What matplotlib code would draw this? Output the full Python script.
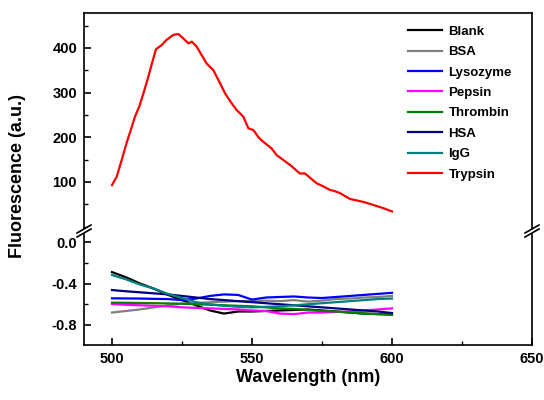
import matplotlib
matplotlib.use("Agg")
import matplotlib.pyplot as plt
from matplotlib.lines import Line2D
from matplotlib.patches import Polygon
from matplotlib.ticker import MultipleLocator

plt.rcParams["font.family"] = ["Liberation Sans", "DejaVu Sans"]
plt.rcParams["font.weight"] = "bold"

# Trypsin spectrum (upper panel)
trypsin_x = [500, 501.7, 503.5, 505.2, 506.8, 508.2, 509.8, 511.2, 512.5, 513.6, 514.7, 515.7,
             517.7, 519.5, 521.9, 523.7, 525.5, 527.3, 528.5, 530.2, 532.0, 533.8, 536.2, 538.5,
             540.4, 542.5, 544.5, 546.9, 548.7, 550.5, 552.3, 554.0, 557.0, 558.8, 561.0, 563.6,
             567.1, 568.9, 571.0, 573.1, 575.5, 577.9, 579.3, 581.4, 585.0, 586.4, 590.0, 593.6,
             597.1, 600.0]
trypsin_y = [93, 112, 150, 187, 218, 246, 270, 298, 325, 350, 375, 397,
             406, 418, 429, 431, 421, 410, 414, 403, 384, 365, 350, 322,
             298, 278, 261, 246, 220, 216, 200, 190, 175, 160, 150, 138,
             119, 119, 108, 97, 90, 82, 80, 75, 62, 60, 55, 48,
             41, 34]

# Control proteins (lower panel)
wl = [500, 505, 510, 515, 520, 525, 530, 535, 540, 545, 550, 555, 560, 565, 570, 575, 580, 585, 590, 595, 600]
blank = [-0.29, -0.34, -0.40, -0.45, -0.51, -0.56, -0.61, -0.66, -0.69, -0.67, -0.67, -0.665, -0.66,
         -0.655, -0.65, -0.66, -0.67, -0.68, -0.69, -0.695, -0.70]
bsa = [-0.68, -0.665, -0.65, -0.63, -0.61, -0.595, -0.59, -0.58, -0.575, -0.57, -0.57, -0.565, -0.57,
       -0.56, -0.575, -0.565, -0.55, -0.545, -0.535, -0.53, -0.52]
lysozyme = [-0.543, -0.544, -0.545, -0.548, -0.55, -0.56, -0.545, -0.52, -0.505, -0.51, -0.555, -0.535,
            -0.53, -0.525, -0.535, -0.54, -0.53, -0.52, -0.51, -0.50, -0.49]
pepsin = [-0.598, -0.605, -0.61, -0.615, -0.62, -0.63, -0.635, -0.64, -0.645, -0.65, -0.66, -0.665,
          -0.69, -0.695, -0.68, -0.68, -0.675, -0.67, -0.66, -0.65, -0.64]
thrombin = [-0.585, -0.586, -0.588, -0.59, -0.592, -0.595, -0.60, -0.605, -0.61, -0.615, -0.62, -0.63,
            -0.64, -0.645, -0.655, -0.665, -0.67, -0.68, -0.69, -0.695, -0.70]
hsa = [-0.463, -0.475, -0.485, -0.495, -0.505, -0.52, -0.535, -0.55, -0.56, -0.57, -0.58, -0.59,
       -0.60, -0.61, -0.62, -0.63, -0.64, -0.65, -0.66, -0.67, -0.685]
igg = [-0.318, -0.36, -0.41, -0.45, -0.50, -0.54, -0.58, -0.60, -0.615, -0.625, -0.63, -0.625,
       -0.62, -0.61, -0.60, -0.59, -0.58, -0.57, -0.56, -0.55, -0.545]

series = [
    ("Blank", blank, "#000000"),
    ("BSA", bsa, "#808080"),
    ("Lysozyme", lysozyme, "#0000ff"),
    ("Pepsin", pepsin, "#ff00ff"),
    ("Thrombin", thrombin, "#008000"),
    ("HSA", hsa, "#000080"),
    ("IgG", igg, "#008080"),
]

W, H = 544, 400
fig = plt.figure(figsize=(W / 100, H / 100), dpi=100)
fig.set_facecolor("white")

left, right = 84 / W, 532 / W
y_top, y_break, y_bot = 1 - 13 / H, 1 - 230 / H, 1 - 345 / H
ax_top = fig.add_axes([left, y_break, right - left, y_top - y_break])
ax_bot = fig.add_axes([left, y_bot, right - left, y_break - y_bot])

lw = 1.6
for name, vals, color in series:
    ax_bot.plot(wl, vals, color=color, linewidth=lw)
    ax_top.plot([], [], color=color, linewidth=lw, label=name)
ax_top.plot(trypsin_x, trypsin_y, color="#ff0000", linewidth=lw, label="Trypsin")

for ax in (ax_top, ax_bot):
    ax.set_xlim(490, 650)
    for s in ax.spines.values():
        s.set_linewidth(1.2)

ax_top.set_ylim(-7.5, 478)
ax_top.yaxis.set_minor_locator(MultipleLocator(50))
ax_top.set_yticks([100, 200, 300, 400])
ax_top.spines["bottom"].set_visible(False)
ax_top.tick_params(axis="x", which="both", bottom=False, labelbottom=False)

ax_bot.set_ylim(-0.993, 0.116)
ax_bot.set_yticks([-0.8, -0.4, 0.0])
ax_bot.set_yticklabels(["-0.8", "-0.4", "0.0"])
ax_bot.yaxis.set_minor_locator(MultipleLocator(0.2))
ax_bot.spines["top"].set_visible(False)
ax_bot.set_xticks([500, 550, 600, 650])
ax_bot.xaxis.set_minor_locator(MultipleLocator(25))

for ax in (ax_top, ax_bot):
    ax.tick_params(axis="both", which="major", direction="in", length=5, width=1.2,
                   labelsize=10.5, pad=5)
    ax.tick_params(axis="both", which="minor", direction="in", length=3, width=1.0)
    ax.tick_params(top=False, right=False, which="both")
    for lab in ax.get_xticklabels() + ax.get_yticklabels():
        lab.set_fontweight("bold")

ax_top.legend(loc="upper left", bbox_to_anchor=(401 / W, 1 - 19 / H),
              bbox_transform=fig.transFigure, frameon=False, borderpad=0,
              handlelength=2.6, handletextpad=0.5, labelspacing=0.62,
              prop={"weight": "bold", "size": 9.5})

fig.text(18 / W, 1 - 176 / H, "Fluorescence (a.u.)", rotation=90, ha="center", va="center",
         fontsize=13, fontweight="bold")
fig.text(308 / W, 1 - 378 / H, "Wavelength (nm)", ha="center", va="center",
         fontsize=13, fontweight="bold")

# axis break marks on both spines
for xp in (84, 532):
    gap = Polygon([[(xp - 7) / W, 1 - 233 / H], [(xp + 7) / W, 1 - 225 / H],
                   [(xp + 7) / W, 1 - 229 / H], [(xp - 7) / W, 1 - 237 / H]],
                  closed=True, transform=fig.transFigure, facecolor="white",
                  edgecolor="none", zorder=5)
    fig.add_artist(gap)
    for dy in (0, 4):
        fig.add_artist(Line2D([(xp - 7) / W, (xp + 7) / W],
                              [1 - (233 + dy) / H, 1 - (225 + dy) / H],
                              transform=fig.transFigure, color="black", linewidth=1.2, zorder=6))

fig.savefig("out.png", dpi=100)
